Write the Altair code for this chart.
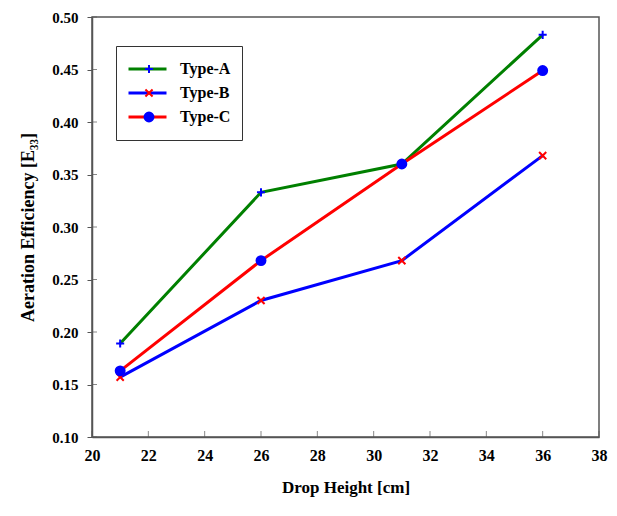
import altair as alt
import pandas as pd

x_vals = [21, 26, 31, 36]
type_a = [0.189, 0.333, 0.360, 0.483]
type_b = [0.157, 0.230, 0.268, 0.368]
type_c = [0.163, 0.268, 0.360, 0.449]
series = ["Type-A", "Type-B", "Type-C"]
line_colors = ["#008000", "#0000FF", "#FF0000"]
marker_colors = ["#0000FF", "#FF0000", "#0000FF"]
marker_shapes = ["M-0.9,0H0.9M0,-0.9V0.9", "M-0.8,-0.8L0.8,0.8M-0.8,0.8L0.8,-0.8", "circle"]
x_ticks = [20, 22, 24, 26, 28, 30, 32, 34, 36, 38]
y_ticks = [0.10, 0.15, 0.20, 0.25, 0.30, 0.35, 0.40, 0.45, 0.50]

rows = []
for name, vals in zip(series, [type_a, type_b, type_c]):
    for xv, yv in zip(x_vals, vals):
        rows.append({"x": xv, "y": yv, "Type": name, "Marker": name})
df = pd.DataFrame(rows)
xtick_df = pd.DataFrame({"x": x_ticks, "y": [y_ticks[0]] * len(x_ticks)})
ytick_df = pd.DataFrame({"x": [x_ticks[0]] * len(y_ticks), "y": y_ticks})

FONT = "Liberation Serif"
AX = "#555555"

xscale = alt.Scale(domain=[20, 38], nice=False, zero=False)
yscale = alt.Scale(domain=[0.10, 0.50], nice=False, zero=False)

x_enc = alt.X("x:Q", scale=xscale,
              axis=alt.Axis(values=x_ticks, title="Drop Height [cm]", ticks=False,
                            labelPadding=10, titlePadding=16, format="d", labelFlush=False,
                            labelFontSize=16, titleFontSize=17))
y_enc = alt.Y("y:Q", scale=yscale,
              axis=alt.Axis(values=y_ticks, title="Aeration Efficiency [E₃₃]", format=".2f",
                            tickSize=5, labelPadding=9, titlePadding=14, labelFlush=False,
                            labelFontSize=15, titleFontSize=18))

lines = alt.Chart(df).mark_line(strokeWidth=3).encode(
    x=x_enc, y=y_enc,
    stroke=alt.Stroke("Type:N", scale=alt.Scale(domain=series, range=line_colors),
                      legend=alt.Legend(orient="none", legendX=24, legendY=29, title=None,
                                        symbolType="stroke", symbolSize=1444, symbolStrokeWidth=3,
                                        clipHeight=24, rowPadding=0, padding=11,
                                        labelOffset=12, strokeColor="#333333",
                                        labelFont=FONT, labelFontSize=16, labelFontWeight="bold",
                                        labelColor="black", zindex=1)),
)

mleg = alt.Legend(orient="none", legendX=38, legendY=29, title=None,
                  symbolSize=80, symbolStrokeWidth=2, symbolOpacity=1,
                  clipHeight=24, rowPadding=0, padding=11,
                  labelExpr="''", labelFontSize=16, zindex=2)

pts = alt.Chart(df).mark_point(filled=False, strokeWidth=2, opacity=1, size=80).encode(
    x="x:Q", y="y:Q",
    color=alt.Color("Marker:N", scale=alt.Scale(range=marker_colors), legend=mleg),
    fill=alt.Fill("Marker:N", scale=alt.Scale(range=marker_colors), legend=mleg),
    shape=alt.Shape("Marker:N", scale=alt.Scale(range=marker_shapes), legend=mleg),
)

xticks = alt.Chart(xtick_df).mark_tick(orient="vertical", size=6, thickness=1, color=AX, yOffset=-3).encode(
    x="x:Q", y="y:Q")
yticks = alt.Chart(ytick_df).mark_tick(orient="horizontal", size=5, thickness=1, color=AX, xOffset=2.5).encode(
    x="x:Q", y="y:Q")

chart = alt.layer(lines, pts, xticks, yticks).properties(
    width=507, height=420,
    background="white",
    autosize=alt.AutoSizeParams(type="none"),
    padding={"left": 92, "top": 17, "right": 18, "bottom": 79},
).configure_view(stroke=AX, strokeWidth=1.5).configure_axis(
    domainColor=AX, domainWidth=1.5, tickColor=AX, grid=False,
    labelFont=FONT, labelFontWeight="bold", labelColor="black",
    titleFont=FONT, titleFontWeight="bold", titleColor="black",
)

chart.save("out.html", embed_options={"renderer": "svg", "actions": False})
